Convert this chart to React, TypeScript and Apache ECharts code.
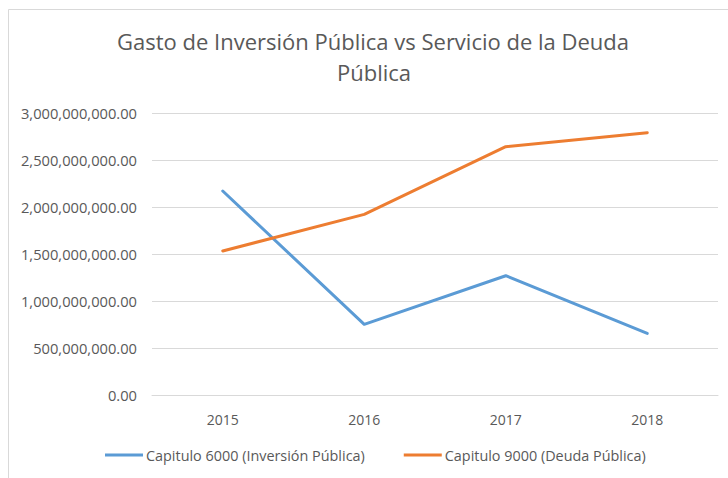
import React, { useEffect, useRef } from "react";
import * as echarts from "echarts";

const years = ["2015", "2016", "2017", "2018"];
const inversion = [2170000000, 752000000, 1269000000, 656000000];
const deuda = [1532000000, 1922000000, 2642000000, 2790000000];
const titleLines = ["Gasto de Inversión Pública vs Servicio de la Deuda", "Pública"];
const seriesNames = ["Capitulo 6000 (Inversión Pública)", "Capitulo 9000 (Deuda Pública)"];

const FONT = "'Open Sans', 'Noto Sans', sans-serif";
const GREY = "#595959";

export default function App() {
  const ref = useRef<HTMLDivElement>(null);
  useEffect(() => {
    if (!ref.current) return;
    const chart = echarts.init(ref.current, null, { renderer: "svg" });
    chart.setOption({
      animation: false,
      backgroundColor: "#ffffff",
      textStyle: { fontFamily: FONT },
      graphic: [
        {
          type: "rect",
          shape: { x: 8.5, y: 9.5, width: 900, height: 900 },
          style: { fill: "none", stroke: "#D9D9D9", lineWidth: 1 },
          silent: true,
        },
        {
          type: "text",
          x: 373,
          y: 41,
          style: {
            text: titleLines[0],
            align: "center",
            verticalAlign: "middle",
            font: `22px ${FONT}`,
            fill: GREY,
          },
        },
        {
          type: "text",
          x: 374,
          y: 72,
          style: {
            text: titleLines[1],
            align: "center",
            verticalAlign: "middle",
            font: `22px ${FONT}`,
            fill: GREY,
          },
        },
      ],
      grid: { left: 152, right: 10, top: 113, bottom: 83, containLabel: false },
      legend: {
        left: 105,
        top: 448,
        padding: 0,
        itemWidth: 38,
        itemHeight: 3,
        itemGap: 39,
        icon: "rect",
        textStyle: { color: GREY, fontSize: 14.4, fontFamily: FONT, padding: [0, 0, 0, -2] },
        data: seriesNames,
      },
      xAxis: {
        type: "category",
        data: years,
        boundaryGap: true,
        axisLine: { lineStyle: { color: "#D9D9D9" } },
        axisTick: { show: false },
        axisLabel: { color: GREY, fontSize: 14, margin: 17 },
      },
      yAxis: {
        type: "value",
        min: 0,
        max: 3000000000,
        interval: 500000000,
        axisLine: { show: false },
        axisTick: { show: false },
        splitLine: { lineStyle: { color: "#D9D9D9", width: 1 } },
        axisLabel: {
          color: GREY,
          fontSize: 14.7,
          margin: 15,
          formatter: (v: number) =>
            v.toLocaleString("en-US", { minimumFractionDigits: 2, maximumFractionDigits: 2 }),
        },
      },
      series: [
        {
          name: seriesNames[0],
          type: "line",
          data: inversion,
          symbol: "none",
          lineStyle: { color: "#5B9BD5", width: 3, cap: "round", join: "round" },
          itemStyle: { color: "#5B9BD5" },
        },
        {
          name: seriesNames[1],
          type: "line",
          data: deuda,
          symbol: "none",
          lineStyle: { color: "#ED7D31", width: 3, cap: "round", join: "round" },
          itemStyle: { color: "#ED7D31" },
        },
      ],
    });
    return () => chart.dispose();
  }, []);
  return (
    <div
      ref={ref}
      style={{ position: "fixed", left: 0, top: 0, width: 728, height: 478 }}
    />
  );
}
